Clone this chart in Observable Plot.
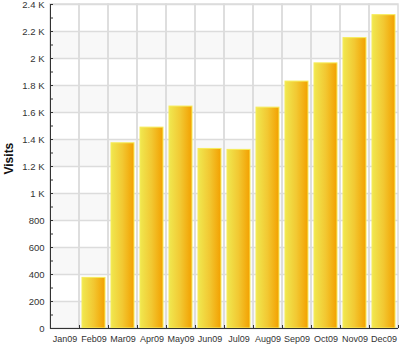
<!DOCTYPE html>
<html><head><meta charset="utf-8">
<script src="https://cdn.jsdelivr.net/npm/d3@7"></script>
<script src="https://cdn.jsdelivr.net/npm/@observablehq/plot@0.6"></script>
<style>body{margin:0;background:#fff} svg{display:block}</style>
</head><body><div id="chart"></div>
<script>
const months = ["Jan09","Feb09","Mar09","Apr09","May09","Jun09","Jul09","Aug09","Sep09","Oct09","Nov09","Dec09"];
const visits = [0,375,1372,1488,1644,1330,1323,1636,1829,1964,2151,2321];
const yTicks = [0,200,400,600,800,1000,1200,1400,1600,1800,2000,2200,2400];
const yTickLabels = ["0","200","400","600","800","1 K","1.2 K","1.4 K","1.6 K","1.8 K","2 K","2.2 K","2.4 K"];
const yMinorTicks = [100,300,500,700,900,1100,1300,1500,1700,1900,2100,2300];
const yLabel = "Visits";

const data = months.map((m, i) => ({month: m, visits: visits[i]}));
const stripes = [];
for (let i = 0; i + 1 < yTicks.length; i += 2) stripes.push({y1: yTicks[i], y2: yTicks[i + 1]});

const W = 400, H = 357, ML = 50, MR = 2, MT = 4, MB = 29;
const bw = (W - ML - MR) / months.length;
const plotW = W - ML - MR, plotH = H - MT - MB;
const font = "'Liberation Sans', Arial, sans-serif";

const chart = Plot.plot({
  width: W, height: H,
  marginLeft: ML, marginRight: MR, marginTop: MT, marginBottom: MB,
  style: {fontFamily: font, fontSize: "9.5px", color: "#333", background: "#fff"},
  x: {domain: months, padding: 0, axis: null},
  y: {domain: [yTicks[0], yTicks[yTicks.length - 1]], axis: null},
  marks: [
    Plot.rect(stripes, {y1: "y1", y2: "y2", fill: "#f8f8f8"}),
    Plot.gridY(yTicks, {stroke: "#dcdcdc", strokeOpacity: 1, strokeWidth: 1.5}),
    Plot.cell(months, {x: d => d, fill: "none", stroke: "#dcdcdc", strokeWidth: 1.5}),
    Plot.barY(data.filter(d => d.visits > 0), {x: "month", y: "visits", fill: "url(#barGrad)", stroke: "#f6ec5a", strokeWidth: 1, insetLeft: 3, insetRight: 3}),
    Plot.ruleY(yTicks, {y: d => d, stroke: "#333", insetRight: plotW - 3}),
    Plot.ruleY(yMinorTicks, {y: d => d, stroke: "#333", insetRight: plotW - 3}),
    Plot.ruleX(months, {x: d => d, dx: -bw / 2, stroke: "#333", insetTop: plotH - 3}),
    Plot.ruleX(months.slice(-1), {x: d => d, dx: bw / 2, stroke: "#333", insetTop: plotH - 3}),
    Plot.ruleX(months.slice(0, 1), {x: d => d, dx: -bw / 2, stroke: "#333"}),
    Plot.ruleY([yTicks[0]], {stroke: "#333"}),
    Plot.axisY(yTicks, {tickSize: 0, tickPadding: 6, tickFormat: d => yTickLabels[yTicks.indexOf(d)], label: null, fill: "#333", fontSize: 9.5}),
    Plot.axisX(months, {tickSize: 0, tickPadding: 7, label: null, fill: "#333", fontSize: 9}),
    Plot.text([yLabel], {frameAnchor: "left", rotate: -90, dx: -41, dy: 8, fontWeight: "bold", fontSize: 12, fill: "#111"})
  ]
});

const ns = "http://www.w3.org/2000/svg";
const defs = document.createElementNS(ns, "defs");
const grad = document.createElementNS(ns, "linearGradient");
grad.setAttribute("id", "barGrad");
grad.setAttribute("x1", "0"); grad.setAttribute("x2", "1");
grad.setAttribute("y1", "0"); grad.setAttribute("y2", "0");
[["0%", "#f0e850"], ["50%", "#f2c832"], ["100%", "#f3a000"]].forEach(([o, c]) => {
  const s = document.createElementNS(ns, "stop");
  s.setAttribute("offset", o); s.setAttribute("stop-color", c);
  grad.appendChild(s);
});
defs.appendChild(grad);
chart.insertBefore(defs, chart.firstChild);
document.getElementById("chart").appendChild(chart);
</script>
</body></html>
